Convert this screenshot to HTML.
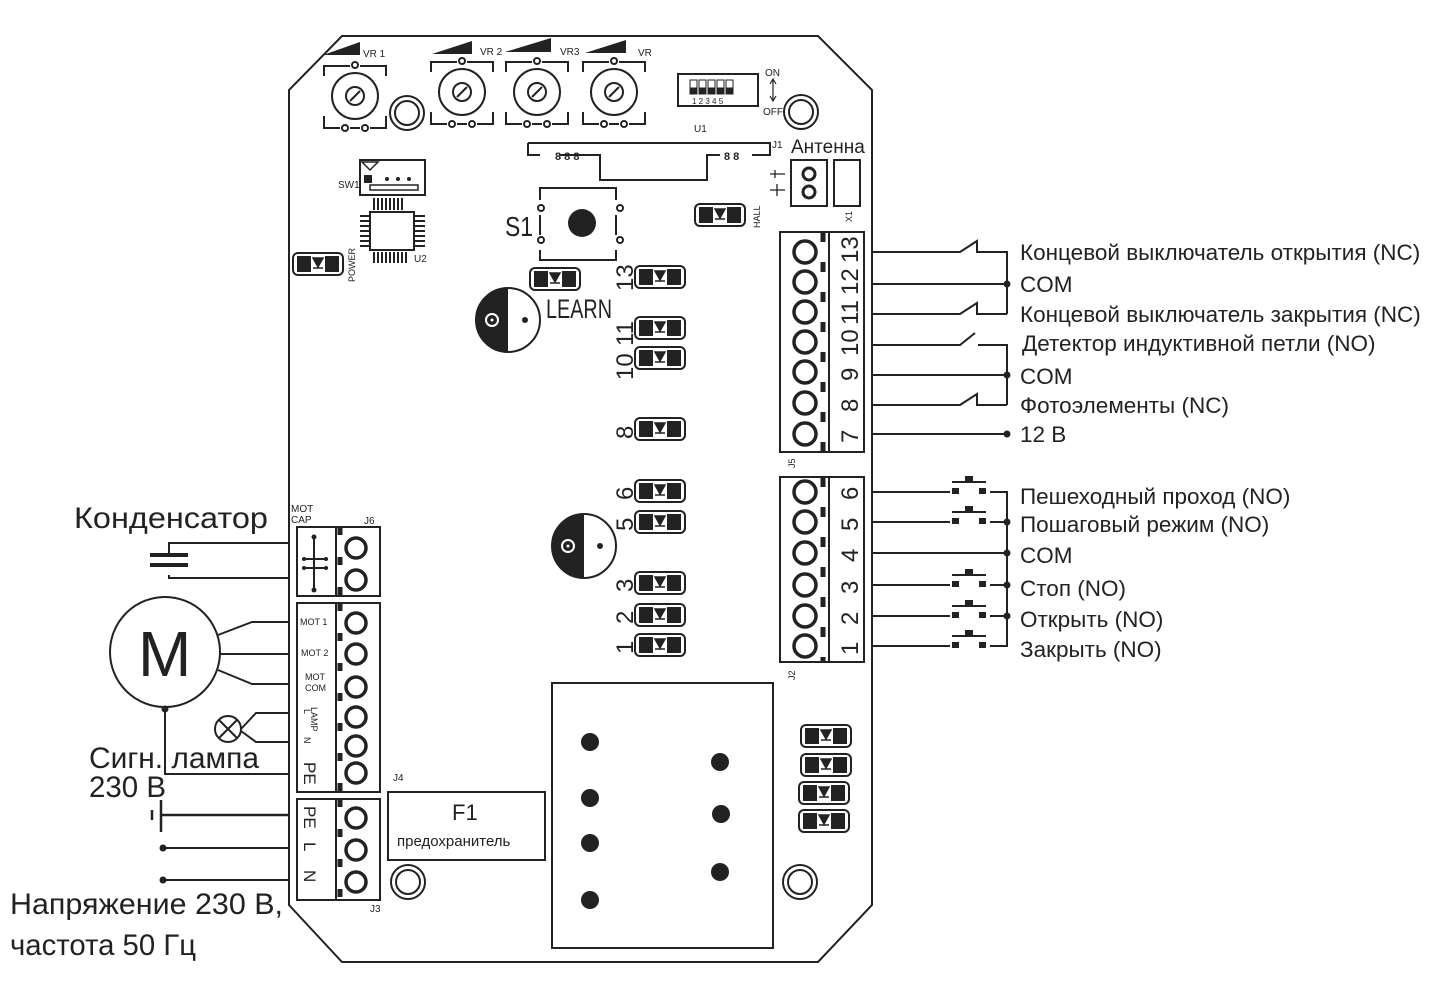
<!DOCTYPE html>
<html><head><meta charset="utf-8"><style>
html,body{margin:0;padding:0;background:#fff;}
svg{display:block;}
text{font-family:"Liberation Sans","DejaVu Sans",sans-serif;fill:#222;}
.l{font-size:22.5px;}
</style></head><body>
<svg width="1438" height="985" viewBox="0 0 1438 985" xmlns="http://www.w3.org/2000/svg">
<defs>
<g id="led">
<rect x="-25" y="-11" width="50" height="22" rx="5" fill="#fff" stroke="#222" stroke-width="2"/>
<rect x="-21" y="-8" width="14" height="16" fill="#222"/>
<rect x="7" y="-8" width="14" height="16" fill="#222"/>
<path d="M-5,-6 L5,-6 L0,3 Z M-5,4 L5,4" fill="#222" stroke="#222" stroke-width="1.5"/>
</g>
<g id="hole"><circle r="17" fill="#fff" stroke="#222" stroke-width="2"/><circle r="12" fill="none" stroke="#222" stroke-width="2"/></g>
<g id="pot">
<path d="M-31,-20 V-30 H-5 M5,-30 H31 V-20 M-31,20 V32 H-15 M-5,32 H5 M15,32 H31 V20" fill="none" stroke="#222" stroke-width="2"/>
<circle cy="-31" r="3" fill="#fff" stroke="#222" stroke-width="2"/>
<circle cx="-10" cy="32" r="3" fill="#fff" stroke="#222" stroke-width="2"/>
<circle cx="10" cy="32" r="3" fill="#fff" stroke="#222" stroke-width="2"/>
<circle r="23" fill="none" stroke="#222" stroke-width="2"/>
<circle r="9" fill="none" stroke="#222" stroke-width="2"/>
<path d="M-5,5 L5,-5" stroke="#222" stroke-width="2"/>
</g>
<g id="pb">
<rect x="-17" y="-4" width="7" height="6" fill="#222"/><rect x="10" y="-4" width="7" height="6" fill="#222"/>
<path d="M-17,-10 H17 M0,-10 V-14" stroke="#222" stroke-width="2"/><rect x="-4" y="-16" width="8" height="5" fill="#222"/>
</g>
</defs>

<path d="M342,36 H818 L872,90 V905 L818,962 H342 L289,905 V90 Z" fill="none" stroke="#222" stroke-width="2"/>

<g transform="translate(355,96)"><use href="#pot"/></g>
<g transform="translate(462,92)"><use href="#pot"/></g>
<g transform="translate(537,92)"><use href="#pot"/></g>
<g transform="translate(614,92)"><use href="#pot"/></g>
<path d="M323,55 L360,42 V55 Z M432,54 L472,41 V54 Z M505,52 L551,38 V52 Z M585,53 L626,40 V53 Z" fill="#222"/>
<text x="363" y="57" font-size="10">VR 1</text>
<text x="480" y="55" font-size="10">VR 2</text>
<text x="560" y="55" font-size="10">VR3</text>
<text x="638" y="56" font-size="10">VR</text>
<g transform="translate(407,113)"><use href="#hole"/></g>
<g transform="translate(801,112)"><use href="#hole"/></g>
<g transform="translate(408,882)"><use href="#hole"/></g>
<g transform="translate(800,882)"><use href="#hole"/></g>

<rect x="678" y="74" width="80" height="32" fill="none" stroke="#222" stroke-width="2"/>
<g fill="#222" stroke="#222" stroke-width="1">
<rect x="690" y="80" width="7" height="13" fill="#fff"/><rect x="690" y="88" width="7" height="6"/>
<rect x="699" y="80" width="7" height="13" fill="#fff"/><rect x="699" y="88" width="7" height="6"/>
<rect x="708" y="80" width="7" height="13" fill="#fff"/><rect x="708" y="88" width="7" height="6"/>
<rect x="717" y="80" width="7" height="13" fill="#fff"/><rect x="717" y="88" width="7" height="6"/>
<rect x="726" y="80" width="7" height="13" fill="#fff"/><rect x="726" y="88" width="7" height="6"/>
</g>
<text x="692" y="104" font-size="8">1 2 3 4 5</text>
<text x="765" y="76" font-size="10">ON</text>
<text x="763" y="115" font-size="10">OFF</text>
<path d="M773,80 V100 M770,84 L773,79 L776,84 M770,96 L773,101 L776,96" stroke="#222" fill="none" stroke-width="1.2"/>
<text x="694" y="132" font-size="10">U1</text>

<path d="M528,143 H770 V155 H752 M528,143 V155 H540 M560,155 H600 V180 H707 V155 H720" fill="none" stroke="#222" stroke-width="2"/>
<text x="555" y="160" font-size="11" font-weight="bold">8 8 8</text>
<text x="724" y="160" font-size="11" font-weight="bold">8 8</text>
<text x="772" y="148" font-size="10">J1</text>
<text x="791" y="153" font-size="19">Антенна</text>
<rect x="791" y="160" width="36" height="46" fill="none" stroke="#222" stroke-width="2"/>
<circle cx="809" cy="174" r="6" fill="none" stroke="#222" stroke-width="3"/>
<circle cx="809" cy="192" r="6" fill="none" stroke="#222" stroke-width="3"/>
<rect x="834" y="160" width="26" height="46" fill="none" stroke="#222" stroke-width="2"/>
<path d="M770,174 H785 M775,170 V178 M770,190 H785 M777,184 V196" stroke="#222" stroke-width="1.3"/>
<text transform="translate(852,222) rotate(-90)" font-size="9">X1</text>

<rect x="360" y="160" width="65" height="35" fill="none" stroke="#222" stroke-width="2"/>
<path d="M362,162 L378,162 L370,170 Z" fill="none" stroke="#222" stroke-width="1.5"/>
<rect x="364" y="175" width="8" height="8" fill="#222"/>
<circle cx="387" cy="179" r="2" fill="#222"/><circle cx="398" cy="179" r="2" fill="#222"/><circle cx="409" cy="179" r="2" fill="#222"/>
<rect x="370" y="185" width="48" height="5" fill="none" stroke="#222" stroke-width="1.5"/>
<text x="338" y="188" font-size="10">SW1</text>
<rect x="370" y="212" width="44" height="38" fill="none" stroke="#222" stroke-width="2"/>
<path d="M374,198 V210 M378,198 V210 M382,198 V210 M386,198 V210 M390,198 V210 M394,198 V210 M398,198 V210 M402,198 V210 M374,252 V263 M378,252 V263 M382,252 V263 M386,252 V263 M390,252 V263 M394,252 V263 M398,252 V263 M402,252 V263 M406,252 V263 M360,216 H369 M360,221 H369 M360,226 H369 M360,231 H369 M360,236 H369 M360,241 H369 M360,246 H369 M415,216 H425 M415,221 H425 M415,226 H425 M415,231 H425 M415,236 H425 M415,241 H425 M415,246 H425" stroke="#222" stroke-width="2"/>
<text x="414" y="262" font-size="10">U2</text>
<g transform="translate(318,264)"><use href="#led"/></g>
<text transform="translate(355,282) rotate(-90)" font-size="9">POWER</text>

<path d="M540,200 V188 H616 V200 M540,250 V260 H616 V250 M540,215 V235 M616,215 V235" fill="none" stroke="#222" stroke-width="2"/>
<circle cx="541" cy="208" r="3" fill="none" stroke="#222" stroke-width="2"/><circle cx="620" cy="208" r="3" fill="none" stroke="#222" stroke-width="2"/>
<circle cx="541" cy="240" r="3" fill="none" stroke="#222" stroke-width="2"/><circle cx="620" cy="240" r="3" fill="none" stroke="#222" stroke-width="2"/>
<circle cx="582" cy="223" r="14" fill="#222"/>
<text x="505" y="236" font-size="28" textLength="28" lengthAdjust="spacingAndGlyphs">S1</text>
<g transform="translate(720,215)"><use href="#led"/></g>
<text transform="translate(760,228) rotate(-90)" font-size="9">HALL</text>
<g transform="translate(555,279)"><use href="#led"/></g>
<text x="546" y="318" font-size="27" textLength="66" lengthAdjust="spacingAndGlyphs">LEARN</text>

<path d="M508,288 A32,32 0 0 0 508,352 Z" fill="#222"/><circle cx="508" cy="320" r="32" fill="none" stroke="#222" stroke-width="2"/>
<circle cx="492" cy="320" r="6" fill="none" stroke="#fff" stroke-width="2"/><circle cx="492" cy="320" r="1.5" fill="#fff"/>
<circle cx="525" cy="320" r="3" fill="#222"/>
<path d="M584,514 A32,32 0 0 0 584,578 Z" fill="#222"/><circle cx="584" cy="546" r="32" fill="none" stroke="#222" stroke-width="2"/>
<circle cx="568" cy="546" r="6" fill="none" stroke="#fff" stroke-width="2"/><circle cx="568" cy="546" r="1.5" fill="#fff"/>
<circle cx="600" cy="546" r="3" fill="#222"/>

<g><use href="#led" transform="translate(660,277)"/><use href="#led" transform="translate(660,328)"/><use href="#led" transform="translate(660,358)"/>
<use href="#led" transform="translate(660,429)"/><use href="#led" transform="translate(660,491)"/><use href="#led" transform="translate(660,522)"/>
<use href="#led" transform="translate(660,583)"/><use href="#led" transform="translate(660,615)"/><use href="#led" transform="translate(660,645)"/>
<use href="#led" transform="translate(826,736)"/><use href="#led" transform="translate(826,765)"/><use href="#led" transform="translate(824,793)"/><use href="#led" transform="translate(824,821)"/></g>
<g font-size="24">
<text transform="translate(633,291) rotate(-90)">13</text>
<text transform="translate(633,346) rotate(-90)">11</text>
<text transform="translate(633,380) rotate(-90)">10</text>
<text transform="translate(633,439) rotate(-90)">8</text>
<text transform="translate(633,500) rotate(-90)">6</text>
<text transform="translate(633,531) rotate(-90)">5</text>
<text transform="translate(633,592) rotate(-90)">3</text>
<text transform="translate(633,624) rotate(-90)">2</text>
<text transform="translate(633,654) rotate(-90)">1</text>
</g>

<rect x="780" y="232" width="84" height="220" fill="#fff" stroke="#222" stroke-width="2"/>
<line x1="829" y1="232" x2="829" y2="452" stroke="#222" stroke-width="2"/>
<g fill="#fff" stroke="#222" stroke-width="3.5">
<circle cx="805" cy="252" r="11"/><circle cx="805" cy="282" r="11"/><circle cx="805" cy="312" r="11"/><circle cx="805" cy="342" r="11"/><circle cx="805" cy="372" r="11"/><circle cx="805" cy="403" r="11"/><circle cx="805" cy="434" r="11"/>
</g>
<path d="M823,232 V452" stroke="#222" stroke-width="5" stroke-dasharray="10,20"/>
<g font-size="24">
<text transform="translate(858,263) rotate(-90)">13</text>
<text transform="translate(858,295) rotate(-90)">12</text>
<text transform="translate(858,325) rotate(-90)">11</text>
<text transform="translate(858,356) rotate(-90)">10</text>
<text transform="translate(858,381) rotate(-90)">9</text>
<text transform="translate(858,412) rotate(-90)">8</text>
<text transform="translate(858,443) rotate(-90)">7</text>
</g>
<text transform="translate(795,468) rotate(-90)" font-size="9">J5</text>

<rect x="780" y="477" width="84" height="185" fill="#fff" stroke="#222" stroke-width="2"/>
<line x1="829" y1="477" x2="829" y2="662" stroke="#222" stroke-width="2"/>
<g fill="#fff" stroke="#222" stroke-width="3.5">
<circle cx="805" cy="492" r="11"/><circle cx="805" cy="522" r="11"/><circle cx="805" cy="553" r="11"/><circle cx="805" cy="585" r="11"/><circle cx="805" cy="616" r="11"/><circle cx="805" cy="646" r="11"/>
</g>
<path d="M823,477 V662" stroke="#222" stroke-width="5" stroke-dasharray="10,20"/>
<g font-size="24">
<text transform="translate(858,500) rotate(-90)">6</text>
<text transform="translate(858,531) rotate(-90)">5</text>
<text transform="translate(858,562) rotate(-90)">4</text>
<text transform="translate(858,594) rotate(-90)">3</text>
<text transform="translate(858,625) rotate(-90)">2</text>
<text transform="translate(858,655) rotate(-90)">1</text>
</g>
<text transform="translate(795,680) rotate(-90)" font-size="9">J2</text>

<g stroke="#222" stroke-width="2" fill="none">
<path d="M872,252 H960 L977,241 V252 H1007 V314"/>
<path d="M872,314 H960 L977,303 V314 H1007"/>
<path d="M872,284 H1007"/>
<path d="M872,345 H960 L975,333 M978,345 H1007 V405"/>
<path d="M872,405 H960 L977,394 V405 H1007"/>
<path d="M872,375 H1007"/>
<path d="M872,434 H1007"/>
<path d="M872,492 H950 M990,492 H1007 V646 H990 M950,646 H872"/>
<path d="M872,522 H950 M990,522 H1007"/>
<path d="M872,553 H1007"/>
<path d="M872,585 H950 M990,585 H1007"/>
<path d="M872,616 H950 M990,616 H1007"/>
</g>
<g fill="#222"><circle cx="1007" cy="284" r="3.5"/><circle cx="1007" cy="375" r="3.5"/><circle cx="1007" cy="434" r="3.5"/>
<circle cx="1007" cy="522" r="3.5"/><circle cx="1007" cy="553" r="3.5"/><circle cx="1007" cy="585" r="3.5"/><circle cx="1007" cy="616" r="3.5"/></g>
<use href="#pb" transform="translate(969,492)"/><use href="#pb" transform="translate(969,522)"/><use href="#pb" transform="translate(969,585)"/><use href="#pb" transform="translate(969,616)"/><use href="#pb" transform="translate(969,646)"/>
<g class="l">
<text x="1020" y="260">Концевой выключатель открытия (NC)</text>
<text x="1020" y="292">COM</text>
<text x="1020" y="322">Концевой выключатель закрытия (NC)</text>
<text x="1022" y="351">Детектор индуктивной петли (NO)</text>
<text x="1020" y="384">COM</text>
<text x="1020" y="413">Фотоэлементы (NC)</text>
<text x="1020" y="442">12 В</text>
<text x="1020" y="504">Пешеходный проход (NO)</text>
<text x="1020" y="532">Пошаговый режим (NO)</text>
<text x="1020" y="563">COM</text>
<text x="1020" y="596">Стоп (NO)</text>
<text x="1020" y="627">Открыть (NO)</text>
<text x="1020" y="657">Закрыть (NO)</text>
</g>

<g stroke="#222" stroke-width="2" fill="#fff">
<rect x="297" y="527" width="83" height="69"/><line x1="336" y1="527" x2="336" y2="596"/>
<rect x="297" y="603" width="83" height="189"/><line x1="336" y1="603" x2="336" y2="792"/>
<rect x="297" y="799" width="83" height="101"/><line x1="336" y1="799" x2="336" y2="900"/>
</g>
<path d="M340,527 V596 M340,603 V792 M340,799 V900" stroke="#222" stroke-width="5" stroke-dasharray="8,22"/>
<g fill="#fff" stroke="#222" stroke-width="3.5">
<circle cx="356" cy="548" r="10"/><circle cx="356" cy="580" r="10"/>
<circle cx="356" cy="623" r="10"/><circle cx="356" cy="654" r="10"/><circle cx="356" cy="687" r="10"/><circle cx="356" cy="717" r="10"/><circle cx="356" cy="746" r="10"/><circle cx="356" cy="773" r="10"/>
<circle cx="356" cy="818" r="10"/><circle cx="356" cy="850" r="10"/><circle cx="356" cy="882" r="10"/>
</g>
<path d="M314,537 V590 M302,559 H328 M302,568 H328" stroke="#222" stroke-width="2"/>
<g fill="#222"><circle cx="314" cy="537" r="2.5"/><circle cx="314" cy="590" r="2.5"/><circle cx="304" cy="559" r="2"/><circle cx="326" cy="559" r="2"/><circle cx="304" cy="568" r="2"/><circle cx="326" cy="568" r="2"/></g>
<text x="291" y="512" font-size="10">MOT</text><text x="291" y="523" font-size="10">CAP</text>
<text x="364" y="524" font-size="10">J6</text>
<g font-size="9"><text x="300" y="625">MOT 1</text><text x="301" y="656">MOT 2</text><text x="305" y="680">MOT</text><text x="305" y="691">COM</text></g>
<text transform="translate(311,707) rotate(90)" font-size="9">LAMP</text>
<text transform="translate(304,709) rotate(90)" font-size="9">L</text>
<text transform="translate(304,737) rotate(90)" font-size="9">N</text>
<g font-size="17"><text transform="translate(304,762) rotate(90)">PE</text><text transform="translate(304,806) rotate(90)">PE</text><text transform="translate(304,842) rotate(90)">L</text><text transform="translate(304,870) rotate(90)">N</text></g>
<text x="393" y="781" font-size="10">J4</text>
<text x="370" y="912" font-size="10">J3</text>

<rect x="388" y="792" width="157" height="68" fill="#fff" stroke="#222" stroke-width="2"/>
<text x="452" y="820" font-size="22">F1</text>
<text x="397" y="846" font-size="15">предохранитель</text>

<rect x="552" y="683" width="221" height="265" fill="none" stroke="#222" stroke-width="2"/>
<g fill="#222"><circle cx="590" cy="742" r="9"/><circle cx="590" cy="798" r="9"/><circle cx="590" cy="843" r="9"/><circle cx="590" cy="900" r="9"/>
<circle cx="720" cy="762" r="9"/><circle cx="721" cy="814" r="9"/><circle cx="720" cy="872" r="9"/></g>

<g stroke="#222" stroke-width="2" fill="none">
<path d="M289,543 H169 V553 M169,575 V578 H289"/>
<path d="M150,555 H188 M150,565 H188" stroke-width="4"/>
<circle cx="165" cy="652" r="55"/>
<path d="M218,635 L252,622 H289 M220,654 H289 M218,670 L252,684 H289"/>
<path d="M165,707 V774 H289"/>
<circle cx="228" cy="729" r="13"/><path d="M219,720 L237,738 M237,720 L219,738"/>
<path d="M241,729 L256,713 H289 M241,731 L256,742 H289"/>
<path d="M161,815 H289 M161,800 V832" stroke-width="2.5"/>
<path d="M152,810 V820" stroke-width="2.5"/>
<path d="M163,848 H289 M163,880 H289"/>
</g>
<circle cx="165" cy="709" r="3.5" fill="#222"/><circle cx="163" cy="848" r="3.5" fill="#222"/><circle cx="163" cy="880" r="3.5" fill="#222"/>
<text x="138" y="676" font-size="64">M</text>
<g font-size="30">
<text x="74" y="528" textLength="194" lengthAdjust="spacingAndGlyphs">Конденсатор</text>
<text x="89" y="768" textLength="170" lengthAdjust="spacingAndGlyphs">Сигн. лампа</text>
<text x="89" y="797" textLength="77" lengthAdjust="spacingAndGlyphs">230 В</text>
<text x="10" y="914" textLength="273" lengthAdjust="spacingAndGlyphs">Напряжение 230 В,</text>
<text x="10" y="955" textLength="186" lengthAdjust="spacingAndGlyphs">частота 50 Гц</text>
</g>
</svg>
</body></html>
